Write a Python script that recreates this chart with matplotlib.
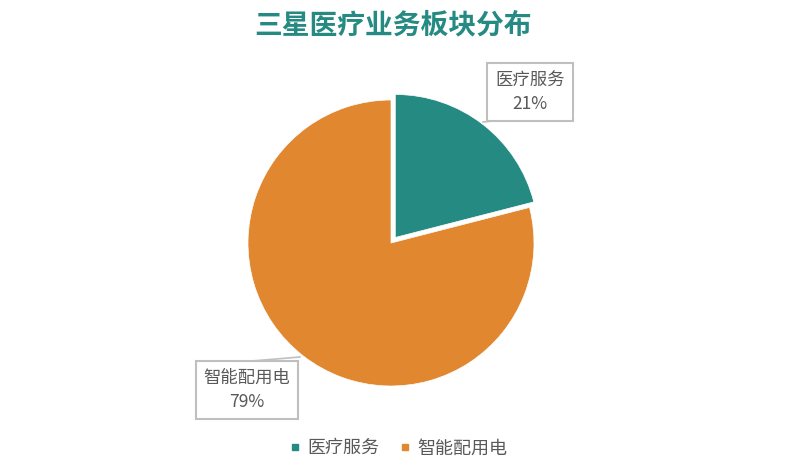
import matplotlib.pyplot as plt
from matplotlib.lines import Line2D

plt.rcParams['font.family'] = ['Noto Sans CJK SC', 'DejaVu Sans']

# data
categories = ['医疗服务', '智能配用电']
shares = [21, 79]
colors = ['#248A82', '#E08730']
title = '三星医疗业务板块分布'

W, H = 787, 467
fig = plt.figure(figsize=(W / 100, H / 100), dpi=100)
ax = fig.add_axes([0, 0, 1, 1])

# explode is in data units here (axes are in pixels)
ax.pie(shares, colors=colors, startangle=90, counterclock=False,
       center=(391, 224), radius=143, explode=[7, 0],
       wedgeprops=dict(edgecolor='white', linewidth=0.5))
ax.set_xlim(0, W)
ax.set_ylim(0, H)
ax.set_aspect('equal')
ax.axis('off')

# data labels with boxes and leader lines
box = dict(boxstyle='square,pad=0.45', fc='white', ec='#BFBFBF', lw=1.5)
lbl_pos = [(530, 375), (247, 77)]
line_pts = [((483, 345), (503, 347)), ((300, 110), (252, 106))]
for name, val, (x, y), (p0, p1) in zip(categories, shares, lbl_pos, line_pts):
    ax.plot([p0[0], p1[0]], [p0[1], p1[1]], color='#BFBFBF', lw=1.2, zorder=1)
    ax.text(x, y, f'{name}\n{val}%', ha='center', va='center', fontsize=12.5,
            color='#595959', linespacing=1.45, bbox=box, zorder=3)

fig.text(0.5, 0.945, title, ha='center', va='center', fontsize=20,
         fontweight='bold', color='#248A82')

handles = [Line2D([], [], marker='s', linestyle='', color=c, markersize=5)
           for c in colors]
fig.legend(handles, categories, loc='center', bbox_to_anchor=(0.505, 0.04),
           ncol=2, frameon=False, fontsize=13, labelcolor='#595959',
           handlelength=0.8, handletextpad=0.3, columnspacing=1.0)

fig.savefig('out.png', dpi=100)
